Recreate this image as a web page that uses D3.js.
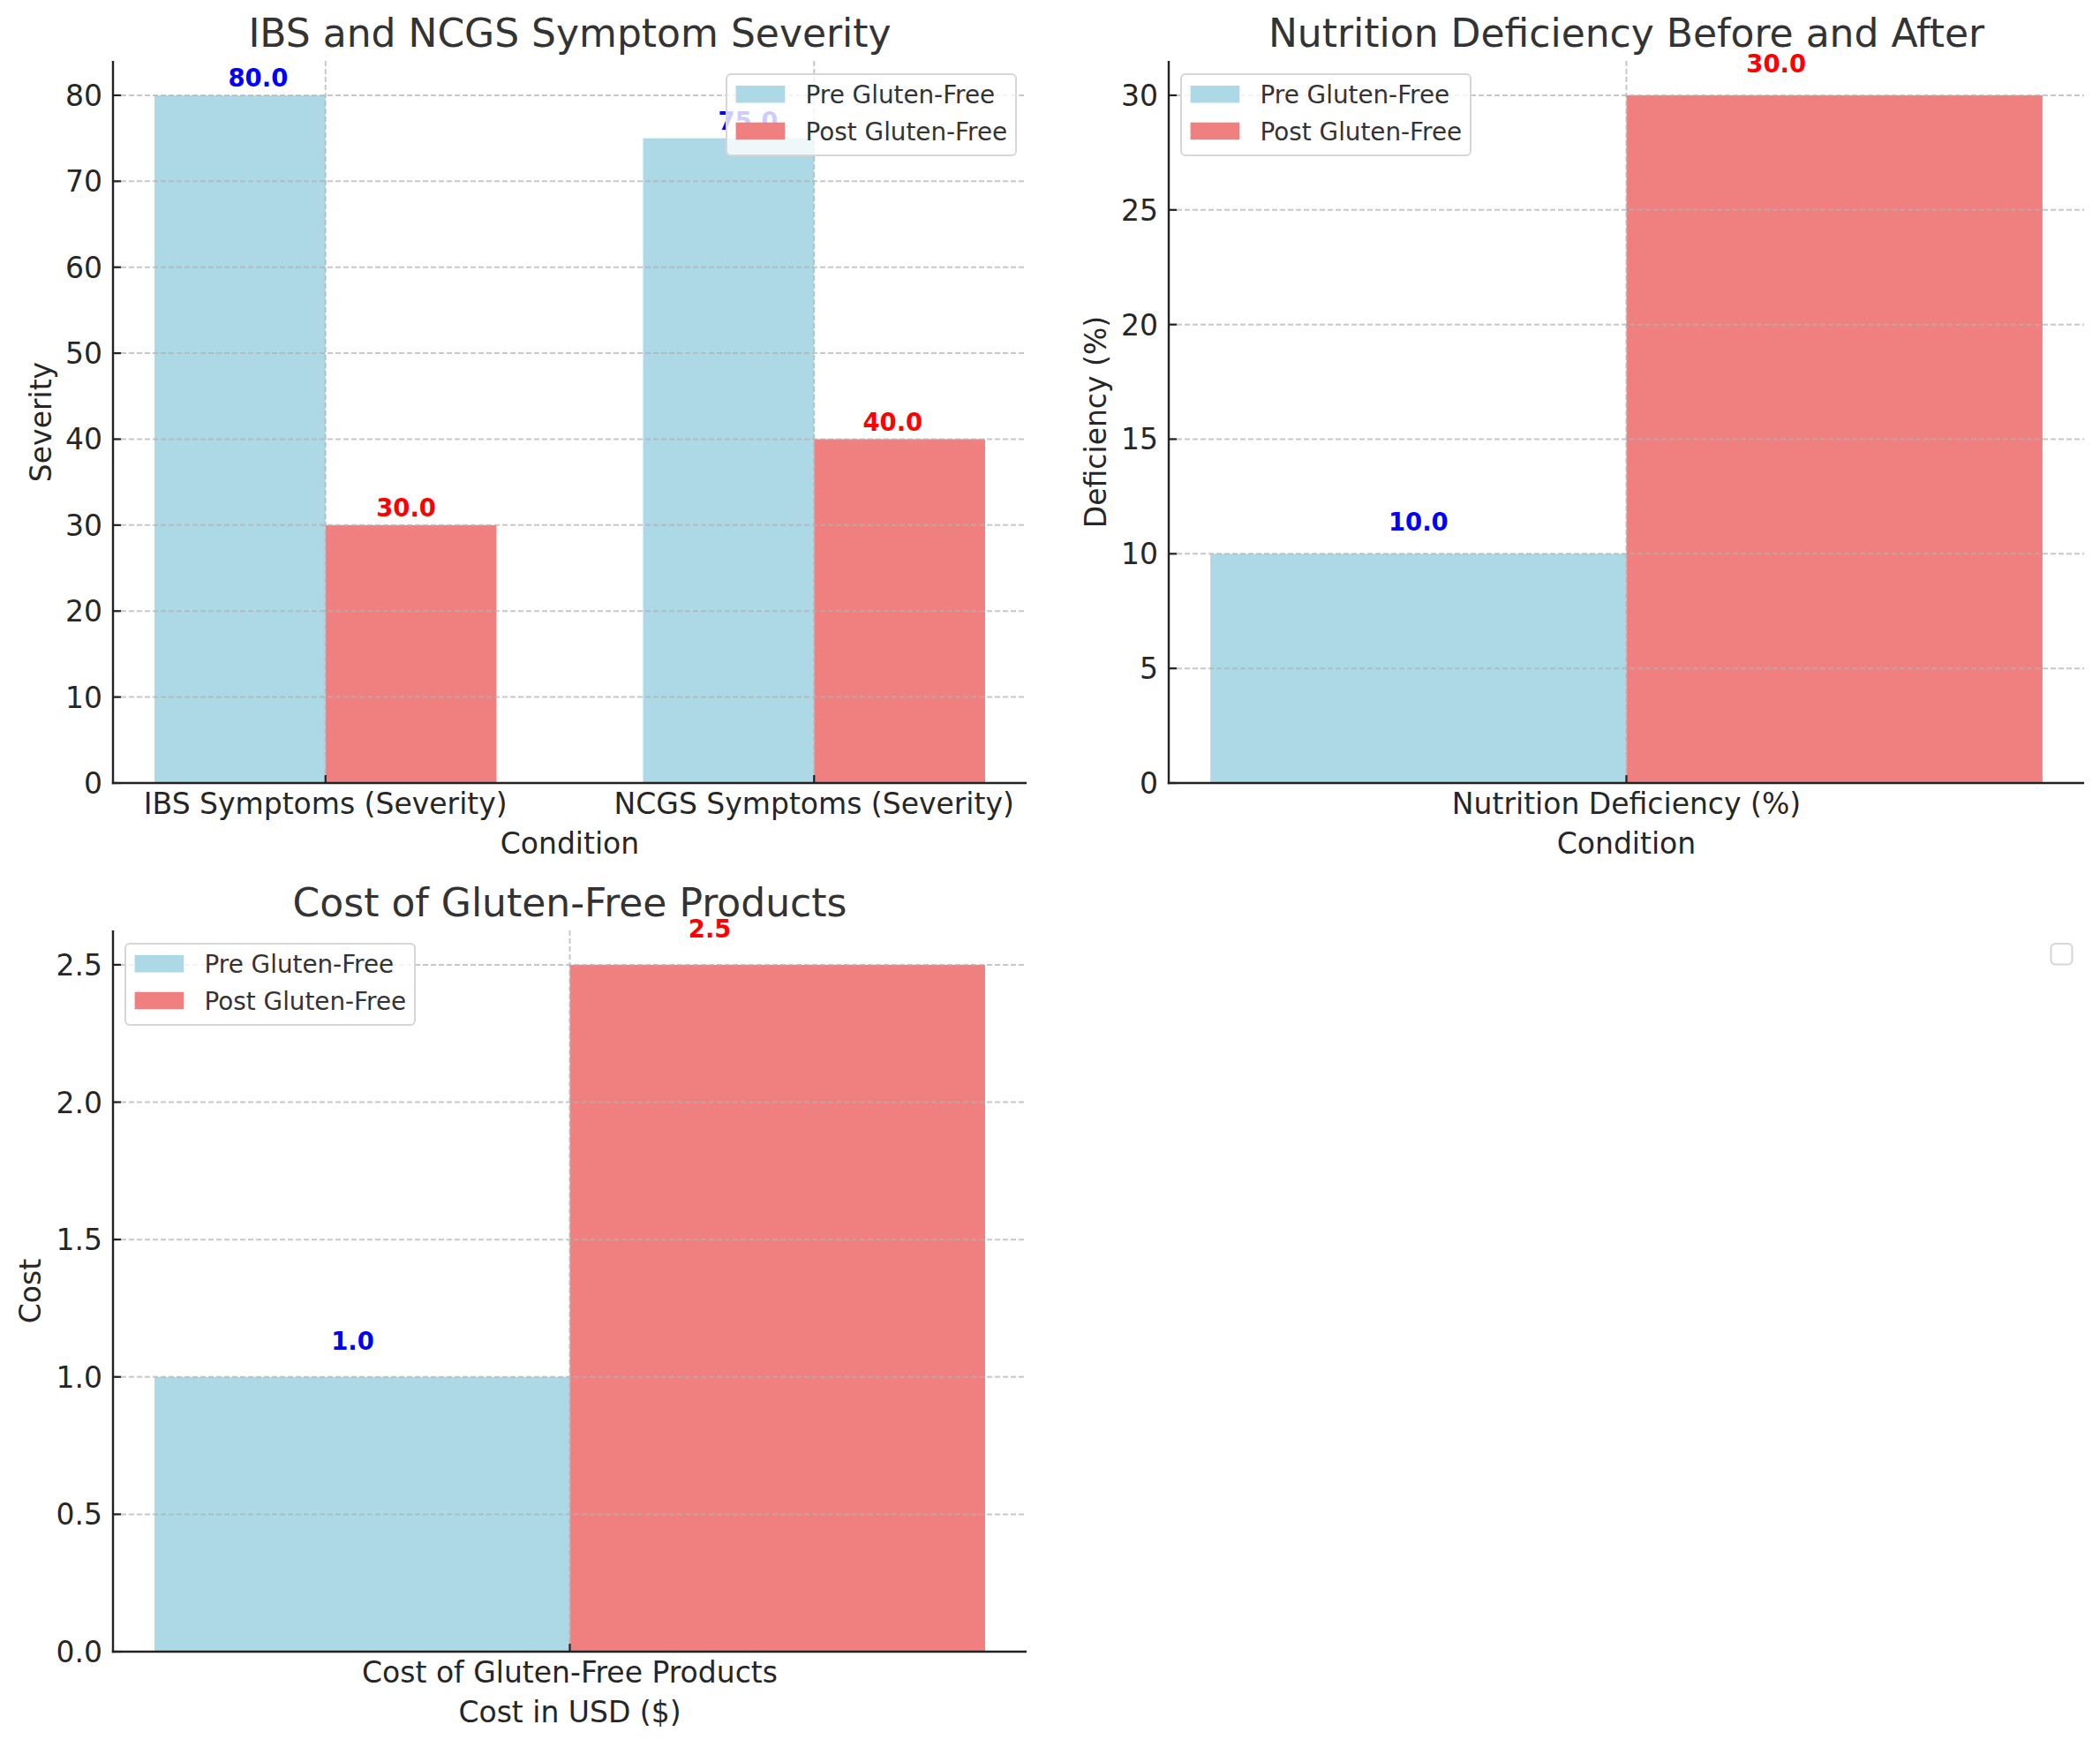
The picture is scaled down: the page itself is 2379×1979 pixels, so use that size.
<!DOCTYPE html>
<html>
<head>
<meta charset="utf-8">
<script src="https://cdn.jsdelivr.net/npm/d3@7"></script>
<style>
  html, body { margin: 0; padding: 0; background: #ffffff; }
  svg { display: block; font-family: "DejaVu Sans", sans-serif; }
</style>
</head>
<body>
<svg id="chart" width="2379" height="1979"></svg>
<script>
// ---------- DATA ----------
const seriesNames = ["Pre Gluten-Free", "Post Gluten-Free"];

const categories1 = ["IBS Symptoms (Severity)", "NCGS Symptoms (Severity)"];
const pre1 = [80, 75];
const post1 = [30, 40];
const ticks1 = [0, 10, 20, 30, 40, 50, 60, 70, 80];

const categories2 = ["Nutrition Deficiency (%)"];
const pre2 = [10];
const post2 = [30];
const ticks2 = [0, 5, 10, 15, 20, 25, 30];

const categories3 = ["Cost of Gluten-Free Products"];
const pre3 = [1.0];
const post3 = [2.5];
const ticks3 = [0.0, 0.5, 1.0, 1.5, 2.0, 2.5];

const titles = ["IBS and NCGS Symptom Severity", "Nutrition Deficiency Before and After", "Cost of Gluten-Free Products"];
const xLabels = ["Condition", "Condition", "Cost in USD ($)"];
const yLabels = ["Severity", "Deficiency (%)", "Cost"];
const tickFormats = ["d", "d", ".1f"];
// value labels sit this many data units above the bar
const labelLift = [1, 1, 0.1];

// ---------- STYLE / LAYOUT ----------
const colors = ["#ADD8E6", "#F08080"];
const labelColors = ["#0000ff", "#ff0000"];
const barWidth = 0.35;
const textColor = "#262626";
const titleColor = "#333333";

const panels = [
  { cats: categories1, pre: pre1, post: post1, ticks: ticks1, left: 128, right: 1163, top: 69, bottom: 887,
    legend: "right", ylabOff: 70, labelDx: [[0.037, -0.01], [0.04, -0.014]] },
  { cats: categories2, pre: pre2, post: post2, ticks: ticks2, left: 1324, right: 2361, top: 69, bottom: 887,
    legend: "left", ylabOff: 71, labelDx: [[0, -0.049]] },
  { cats: categories3, pre: pre3, post: post3, ticks: ticks3, left: 128, right: 1163, top: 1054, bottom: 1871,
    legend: "left", ylabOff: 82, labelDx: [[-0.008, -0.057]] }
];

const svg = d3.select("#chart");

panels.forEach((p, i) => {
  const n = p.cats.length;
  const xmin = -barWidth, xmax = (n - 1) + barWidth;
  const xm = (xmax - xmin) * 0.05;
  const x = d3.scaleLinear().domain([xmin - xm, xmax + xm]).range([p.left, p.right]);
  const ymax = d3.max(p.pre.concat(p.post)) * 1.05;
  const y = d3.scaleLinear().domain([0, ymax]).range([p.bottom, p.top]);
  const g = svg.append("g");
  const fmt = d3.format(tickFormats[i]);

  // bars
  const rows = p.cats.map((c, k) => ({ k, c, pre: p.pre[k], post: p.post[k] }));
  [["pre", -barWidth], ["post", 0]].forEach(([key, off], s) => {
    g.selectAll(null).data(rows).enter().append("rect")
      .attr("x", d => x(d.k + off))
      .attr("width", d => x(d.k + off + barWidth) - x(d.k + off))
      .attr("y", d => y(d[key]))
      .attr("height", d => y(0) - y(d[key]))
      .attr("fill", colors[s]);
  });

  // grid lines (drawn above bars, like matplotlib)
  const grid = g.append("g").attr("stroke", "#b0b0b0").attr("stroke-opacity", 0.7)
    .attr("stroke-width", 2).attr("stroke-dasharray", "6,3");
  p.ticks.forEach(t => {
    grid.append("line").attr("x1", p.left).attr("x2", p.right).attr("y1", y(t)).attr("y2", y(t));
  });
  rows.forEach(d => {
    grid.append("line").attr("x1", x(d.k)).attr("x2", x(d.k)).attr("y1", p.top).attr("y2", p.bottom);
  });

  // value labels
  [["pre", -barWidth / 2], ["post", barWidth / 2]].forEach(([key, off], s) => {
    g.selectAll(null).data(rows).enter().append("text")
      .attr("x", d => x(d.k + off + p.labelDx[d.k][s]))
      .attr("y", d => y(d[key] + labelLift[i]))
      .attr("text-anchor", "middle")
      .attr("font-size", 27.5).attr("font-weight", "bold")
      .attr("fill", labelColors[s])
      .text(d => d3.format(".1f")(d[key]));
  });

  // spines
  g.append("line").attr("x1", p.left).attr("x2", p.left).attr("y1", p.top).attr("y2", p.bottom + 1.2)
    .attr("stroke", "#222").attr("stroke-width", 2.4);
  g.append("line").attr("x1", p.left - 1.2).attr("x2", p.right).attr("y1", p.bottom).attr("y2", p.bottom)
    .attr("stroke", "#222").attr("stroke-width", 2.4);

  // y ticks (inward) + labels
  p.ticks.forEach(t => {
    g.append("line").attr("x1", p.left).attr("x2", p.left + 9).attr("y1", y(t)).attr("y2", y(t))
      .attr("stroke", "#222").attr("stroke-width", 2.2);
    g.append("text").attr("x", p.left - 12).attr("y", y(t) + 12)
      .attr("text-anchor", "end").attr("font-size", 33).attr("fill", textColor)
      .text(fmt(t));
  });
  // x ticks (inward) + labels
  rows.forEach(d => {
    g.append("line").attr("x1", x(d.k)).attr("x2", x(d.k)).attr("y1", p.bottom).attr("y2", p.bottom - 9)
      .attr("stroke", "#222").attr("stroke-width", 2.2);
    g.append("text").attr("x", x(d.k)).attr("y", p.bottom + 35)
      .attr("text-anchor", "middle").attr("font-size", 33).attr("fill", textColor)
      .text(d.c);
  });

  // axis labels
  g.append("text").attr("x", (p.left + p.right) / 2).attr("y", p.bottom + 80)
    .attr("text-anchor", "middle").attr("font-size", 33).attr("fill", textColor).text(xLabels[i]);
  g.append("text")
    .attr("transform", `translate(${p.left - p.ylabOff},${(p.top + p.bottom) / 2}) rotate(-90)`)
    .attr("text-anchor", "middle").attr("font-size", 33).attr("fill", textColor).text(yLabels[i]);

  // title
  g.append("text").attr("x", (p.left + p.right) / 2).attr("y", p.top - 16)
    .attr("text-anchor", "middle").attr("font-size", 44).attr("fill", titleColor).text(titles[i]);

  // legend
  const lw = 328, lh = 92;
  const lx = p.legend === "right" ? p.right - 12 - lw : p.left + 14;
  const ly = p.top + 15;
  const lg = g.append("g").attr("transform", `translate(${lx},${ly})`);
  lg.append("rect").attr("width", lw).attr("height", lh).attr("rx", 5)
    .attr("fill", "#ffffff").attr("fill-opacity", 0.8)
    .attr("stroke", "#d6d6d6").attr("stroke-width", 2);
  seriesNames.forEach((s, k) => {
    lg.append("rect").attr("x", 10.6).attr("y", 13 + k * 41.7).attr("width", 55.7).attr("height", 19.5)
      .attr("fill", colors[k]);
    lg.append("text").attr("x", 89.6).attr("y", 33.4 + k * 41.7)
      .attr("font-size", 27.8).attr("fill", "#333333").text(s);
  });
});

// empty legend of the fourth (hidden) axes
svg.append("rect").attr("x", 2323.5).attr("y", 1069).attr("width", 24).attr("height", 23.5).attr("rx", 5)
  .attr("fill", "#ffffff").attr("fill-opacity", 0.8).attr("stroke", "#d6d6d6").attr("stroke-width", 2);
</script>
</body>
</html>
